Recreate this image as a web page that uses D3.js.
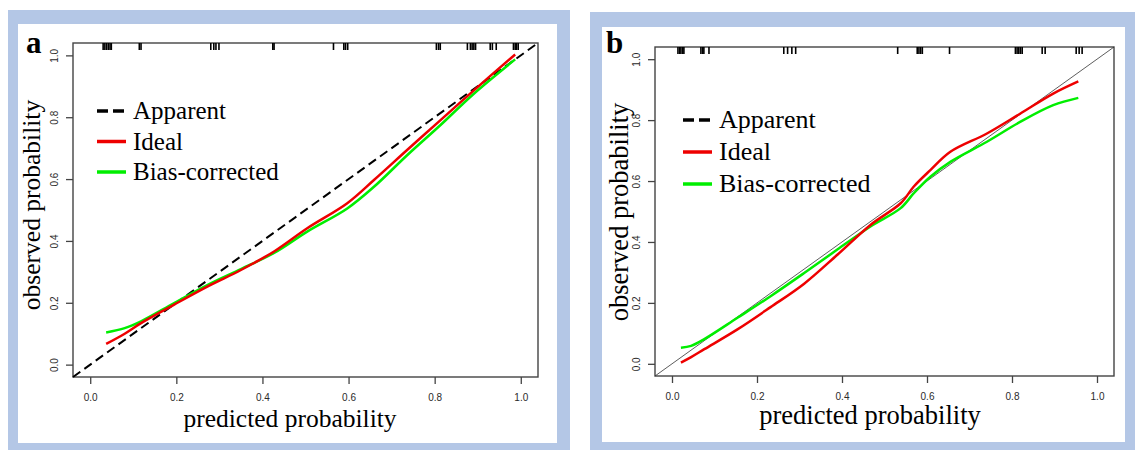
<!DOCTYPE html>
<html>
<head>
<meta charset="utf-8">
<script src="https://cdn.jsdelivr.net/npm/d3@7"></script>
<style>
  body { margin: 0; background: white; }
</style>
</head>
<body>
<div id="container"></div>
<script>
// panel a
let predA = [0.037, 0.08, 0.118, 0.195, 0.273, 0.35, 0.427, 0.504, 0.597, 0.659, 0.736, 0.813, 0.891, 0.987];
let idealA = [0.067, 0.10, 0.134, 0.194, 0.253, 0.306, 0.366, 0.441, 0.522, 0.597, 0.694, 0.79, 0.887, 1.003];
let biasA = [0.104, 0.118, 0.14, 0.199, 0.258, 0.309, 0.361, 0.43, 0.505, 0.575, 0.677, 0.774, 0.876, 0.987];
let rugA = [0.03, 0.034, 0.038, 0.042, 0.046, 0.049, 0.114, 0.118, 0.28, 0.287, 0.292, 0.299,
  0.424, 0.427, 0.565, 0.589, 0.593, 0.598, 0.804, 0.809, 0.813, 0.876, 0.883, 0.887, 0.891, 0.895,
  0.929, 0.934, 0.943, 0.983, 0.987, 0.99, 0.994];

// panel b
let predB = [0.021, 0.045, 0.076, 0.154, 0.232, 0.311, 0.389, 0.467, 0.538, 0.569, 0.608, 0.655, 0.741, 0.819, 0.897, 0.956];
let idealB = [0.004, 0.022, 0.048, 0.113, 0.186, 0.263, 0.358, 0.456, 0.527, 0.582, 0.636, 0.696, 0.756, 0.821, 0.887, 0.927];
let biasB = [0.053, 0.059, 0.081, 0.151, 0.222, 0.298, 0.375, 0.451, 0.511, 0.56, 0.614, 0.663, 0.729, 0.794, 0.849, 0.873];
let rugB = [0.014, 0.018, 0.021, 0.025, 0.028, 0.068, 0.072, 0.075, 0.087, 0.263, 0.272, 0.282, 0.291,
  0.531, 0.577, 0.581, 0.585, 0.589, 0.653, 0.808, 0.812, 0.816, 0.82, 0.824, 0.871, 0.878,
  0.951, 0.958, 0.965];

let ticks = [0, 0.2, 0.4, 0.6, 0.8, 1.0];
let legendLabels = ["Apparent", "Ideal", "Bias-corrected"];
let xTitle = "predicted probability";
let yTitle = "observed probability";

let w = 1135;
let h = 450;
let frameColor = "#b4c7e6";

let viz = d3.select("#container")
  .append("svg")
    .attr("width", w)
    .attr("height", h)
    .style("background-color", "white")
;

function toPoints(xs, ys) {
  return xs.map(function(d, i) { return {x: d, y: ys[i]}; });
}

function drawPanel(p) {
  // blue frame
  viz.append("rect")
    .attr("x", p.outer[0]).attr("y", p.outer[1])
    .attr("width", p.outer[2] - p.outer[0]).attr("height", p.outer[3] - p.outer[1])
    .attr("fill", frameColor);
  viz.append("rect")
    .attr("x", p.inner[0]).attr("y", p.inner[1])
    .attr("width", p.inner[2] - p.inner[0]).attr("height", p.inner[3] - p.inner[1])
    .attr("fill", "white");

  let x = d3.scaleLinear().domain([-0.04, 1.04]).range([p.box[0], p.box[2]]);
  let y = d3.scaleLinear().domain([-0.04, 1.04]).range([p.box[3], p.box[1]]);

  let g = viz.append("g");

  // axes
  let xAxis = d3.axisBottom(x).tickValues(ticks).tickFormat(d3.format(".1f")).tickSize(7).tickPadding(10);
  let yAxis = d3.axisLeft(y).tickValues(ticks).tickFormat(d3.format(".1f")).tickSize(7).tickPadding(4);

  let gx = g.append("g").attr("transform", "translate(0," + p.box[3] + ")").call(xAxis);
  let gy = g.append("g").attr("transform", "translate(" + p.box[0] + ",0)").call(yAxis);
  [gx, gy].forEach(function(a) {
    a.select(".domain").remove();
    a.selectAll("line").attr("stroke", "#444").attr("stroke-width", 1.3);
    a.selectAll("text")
      .attr("fill", "#2a2a2a")
      .style("font-family", "'Liberation Sans', Arial, sans-serif")
      .style("font-size", "10px");
  });
  gy.selectAll("text")
    .attr("text-anchor", "middle")
    .attr("x", null).attr("dy", null)
    .attr("transform", "translate(-18,0) rotate(-90)")
    .attr("dominant-baseline", "middle");

  // box
  g.append("rect")
    .attr("x", p.box[0]).attr("y", p.box[1])
    .attr("width", p.box[2] - p.box[0]).attr("height", p.box[3] - p.box[1])
    .attr("fill", "none").attr("stroke", "#444").attr("stroke-width", 1.4);

  // rug along top
  g.selectAll(".rug").data(p.rug).enter().append("line")
    .attr("x1", function(d) { return x(d); }).attr("x2", function(d) { return x(d); })
    .attr("y1", p.box[1]).attr("y2", p.box[1] + 7)
    .attr("stroke", "black").attr("stroke-width", 1.6);

  // diagonal
  let diag = g.append("line")
    .attr("x1", x(-0.04)).attr("y1", y(-0.04))
    .attr("x2", x(1.04)).attr("y2", y(1.04))
    .attr("stroke", "black");
  if (p.dashedDiag) {
    diag.attr("stroke-width", 2).attr("stroke-dasharray", "9,5");
  } else {
    diag.attr("stroke-width", 0.8).attr("stroke", "#333");
  }

  let line = d3.line()
    .x(function(d) { return x(d.x); })
    .y(function(d) { return y(d.y); })
    .curve(d3.curveCatmullRom);

  g.append("path").datum(toPoints(p.pred, p.bias))
    .attr("d", line).attr("fill", "none").attr("stroke", "#00ee00").attr("stroke-width", 2.5);
  g.append("path").datum(toPoints(p.pred, p.ideal))
    .attr("d", line).attr("fill", "none").attr("stroke", "#ee0000").attr("stroke-width", 2.5);

  // legend
  let colors = ["black", "#ee0000", "#00ee00"];
  legendLabels.forEach(function(lab, i) {
    let by = p.legY + i * p.legGap;
    let ly = by - 8;
    let seg = g.append("line")
      .attr("x1", p.legX).attr("x2", p.legX + 29)
      .attr("y1", ly).attr("y2", ly)
      .attr("stroke", colors[i]).attr("stroke-width", 3.5);
    if (i == 0) seg.attr("stroke-dasharray", "11,5");
    g.append("text")
      .text(lab)
      .attr("x", p.legX + 36).attr("y", by)
      .attr("fill", "black")
      .style("font-family", "'Liberation Serif', 'Times New Roman', serif")
      .style("font-size", p.legSize + "px");
  });

  // titles
  g.append("text")
    .text(xTitle)
    .attr("x", p.xTitle[0]).attr("y", p.xTitle[1])
    .attr("text-anchor", "middle")
    .style("font-family", "'Liberation Serif', 'Times New Roman', serif")
    .style("font-size", p.titleSize + "px");
  g.append("text")
    .text(yTitle)
    .attr("text-anchor", "middle")
    .attr("transform", "translate(" + p.yTitle[0] + "," + p.yTitle[1] + ") rotate(-90)")
    .style("font-family", "'Liberation Serif', 'Times New Roman', serif")
    .style("font-size", p.titleSize + "px");

  // panel letter
  g.append("text")
    .text(p.letter)
    .attr("x", p.letterPos[0]).attr("y", p.letterPos[1])
    .style("font-family", "'Liberation Serif', 'Times New Roman', serif")
    .style("font-weight", "bold")
    .style("font-size", "31px");
}

drawPanel({
  outer: [8, 10, 570, 455], inner: [18, 24, 557, 443],
  box: [73, 43, 538, 377],
  pred: predA, ideal: idealA, bias: biasA, rug: rugA,
  dashedDiag: true,
  legX: 97, legY: 119, legGap: 30.5, legSize: 25,
  xTitle: [290, 427], yTitle: [40, 205], titleSize: 25.5,
  letter: "a", letterPos: [26, 53]
});

drawPanel({
  outer: [590, 12, 1140, 455], inner: [602, 27, 1125, 442],
  box: [655, 47, 1114, 376],
  pred: predB, ideal: idealB, bias: biasB, rug: rugB,
  dashedDiag: false,
  legX: 683, legY: 128, legGap: 32, legSize: 26,
  xTitle: [870, 424], yTitle: [628, 212], titleSize: 26.5,
  letter: "b", letterPos: [606, 53]
});
</script>
</body>
</html>
